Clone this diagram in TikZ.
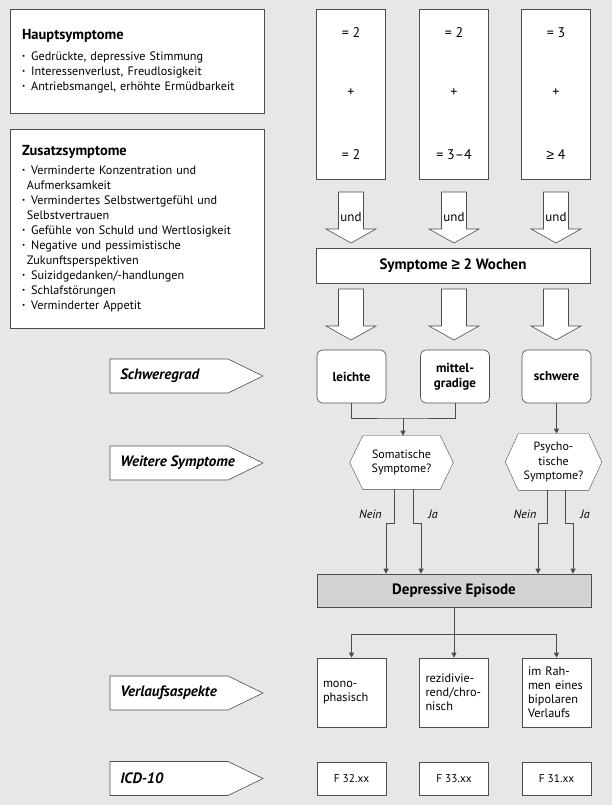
\documentclass[tikz,border=0pt]{standalone}
\usepackage{fontspec}
\setmainfont{PT Sans}
\newfontfamily\symfont{Liberation Sans}
\usetikzlibrary{arrows.meta,positioning,calc,backgrounds}
\definecolor{bggray}{HTML}{E6E7E8}
\definecolor{rule}{HTML}{4D4D4F}
\definecolor{epifill}{HTML}{D1D3D4}
\newcommand{\bitem}[1]{\hangindent=5pt\hangafter=1\noindent\makebox[0.75em][l]{\raisebox{0.25ex}{\fontsize{7}{7}\selectfont\textbullet}}#1\par}
\newcommand{\geqs}{{\symfont ≥}}

\begin{document}
\begin{tikzpicture}[x=1pt,y=-1pt,line width=0.6pt,
  box/.style={draw=rule,fill=white},
  listbox/.style={box,align=left,inner xsep=12pt,inner ysep=0pt,text width=230pt,minimum width=254pt,font=\fontsize{12.2}{15}\selectfont},
  colbox/.style={box,minimum width=69pt,minimum height=170pt},
  num/.style={inner sep=0pt,font=\fontsize{14}{16}\selectfont},
  grad/.style={box,rounded corners=6pt,minimum width=69pt,minimum height=53pt,align=center,font=\bfseries\fontsize{13}{15}\selectfont},
  hex/.style={align=center,inner sep=0pt,font=\fontsize{12}{14.5}\selectfont},
  verl/.style={box,minimum width=69pt,minimum height=69pt,text width=57pt,inner xsep=6pt,align=left,font=\fontsize{12.3}{14}\selectfont},
  icd/.style={box,minimum width=69pt,minimum height=33pt,font=\fontsize{11.3}{13}\selectfont},
  tag/.style={anchor=west,inner sep=0pt,font=\bfseries\itshape\fontsize{15}{17}\selectfont},
  lbl/.style={inner sep=0pt,font=\itshape\fontsize{12}{14}\selectfont},
  arr/.style={-{Triangle[length=5pt,width=5pt]},draw=rule},
  bigarrow/.pic={\draw[rule,fill=white] (-12.5,0) -- (12.5,0) -- (12.5,37) -- (25,37) -- (0,51) -- (-25,37) -- (-12.5,37) -- cycle;}]
\begin{scope}[on background layer]
  \fill[bggray] (0,0) rectangle (612,805);
\end{scope}
\useasboundingbox (0,0) rectangle (612,805);
% symptom lists
\node[listbox,minimum height=104pt] (haupt) at (137,61) {{\bfseries\fontsize{14.5}{16}\selectfont Hauptsymptome\par}\vspace{6pt}
  \bitem{Gedrückte, depressive Stimmung}
  \bitem{Interessenverlust, Freudlosigkeit}
  \bitem{Antriebsmangel, erhöhte Ermüdbarkeit}};
\node[listbox,minimum height=199pt] (zusatz) at (137,228.5) {{\bfseries\fontsize{14.5}{16}\selectfont Zusatzsymptome\par}\vspace{4pt}
  \bitem{Verminderte Konzentration und\newline Aufmerksamkeit}
  \bitem{Vermindertes Selbstwertgefühl und\newline Selbstvertrauen}
  \bitem{Gefühle von Schuld und Wertlosigkeit}
  \bitem{Negative und pessimistische\newline Zukunftsperspektiven}
  \bitem{Suizidgedanken/-handlungen}
  \bitem{Schlafstörungen}
  \bitem{Verminderter Appetit}};
% criteria columns
\foreach \n/\x/\a/\b in {k1/351/= 2/= 2,k2/454/= 2/= 3–4,k3/556/= 3/\geqs\ 4}{
  \node[colbox] (\n) at (\x,94) {};
  \node[num] (\n-a) at (\x,33) {\a};
  \node[num] (\n-p) at (\x,93) {+};
  \node[num] (\n-b) at (\x,155) {\b};
}
% block arrows
\foreach \x in {351,454,556}{
  \pic at (\x,192) {bigarrow};
  \node[inner sep=0pt,font=\fontsize{13}{15}\selectfont] (und\x) at (\x,217) {und};
}
\node[box,minimum width=274pt,minimum height=35pt,font=\bfseries\fontsize{15}{17}\selectfont] (sym) at (453,265.5) {Symptome \geqs\ 2 Wochen};
\foreach \x in {351,454,556}{\pic at (\x,289) {bigarrow};}
% severity
\node[grad] (lei) at (351.5,376.5) {leichte};
\node[grad] (mit) at (455,376.5) {mittel-\\gradige};
\node[grad] (sch) at (556.5,376.5) {schwere};
% further symptoms
\node[hex,minimum width=77pt,minimum height=53pt] (som) at (401.5,462.5) {Somatische\\Symptome?};
\node[hex,minimum width=70pt,minimum height=56pt] (psy) at (553.5,462) {Psycho-\\tische\\Symptome?};
\begin{scope}[on background layer]
  \foreach \h in {som,psy}
    \draw[box] (\h.north west) -- (\h.north east) -- ([xshift=13pt]\h.east) -- (\h.south east) -- (\h.south west) -- ([xshift=-13pt]\h.west) -- cycle;
\end{scope}
\coordinate (mg) at (403,418);
\draw[rule] (lei.south) |- (mg) -| (mit.south);
\draw[arr] (mg) -- (mg |- som.north);
\draw[arr] (sch.south) -- (sch.south |- psy.north);
% episode
\node[box,fill=epifill,minimum width=274pt,minimum height=33pt,font=\bfseries\fontsize{15}{17}\selectfont] (epi) at (454,590.5) {Depressive Episode};
\draw[arr] ([xshift=-7.5pt]som.south) -- ++(0,34) -| ([xshift=-68pt]epi.north);
\draw[arr] ([xshift=11.5pt]som.south) -- ++(0,34) -| ([xshift=-33pt]epi.north);
\draw[arr] ([xshift=-6.5pt]psy.south) -- ++(0,33) -| ([xshift=84pt]epi.north);
\draw[arr] ([xshift=11.5pt]psy.south) -- ++(0,33) -| ([xshift=119pt]epi.north);
\node[lbl,anchor=east] (nein1) at (382,514) {Nein};
\node[lbl] (ja1) at (433,514) {Ja};
\node[lbl] (nein2) at (525,514) {Nein};
\node[lbl] (ja2) at (585,514) {Ja};
% course
\node[verl] (mono) at (351.5,692.5) {mono-\\phasisch};
\node[verl] (rez) at (454,692.5) {rezidivie-\\rend/chro-\\nisch};
\node[verl] (bip) at (556.5,692.5) {im Rah-\\men eines\\bipolaren\\Verlaufs};
\coordinate (vz) at (454,634);
\draw[rule] (epi.south) -- (vz);
\foreach \b in {mono,rez,bip} \draw[arr] (vz) -| (\b.north);
% ICD codes
\node[icd] (f32) at (351.5,778.5) {F 32.xx};
\node[icd] (f33) at (454,778.5) {F 33.xx};
\node[icd] (f31) at (556.5,778.5) {F 31.xx};
% row tags
\foreach \y/\t/\n in {376/Schweregrad/t1,463/Weitere Symptome/t2,693/Verlaufsaspekte/t3,778.5/ICD-10/t4}{
  \draw[box] (110,\y-17) -- (228,\y-17) -- (263,\y) -- (228,\y+17) -- (110,\y+17) -- cycle;
  \node[tag] (\n) at (120,\y) {\t};
}
\end{tikzpicture}
\end{document}
